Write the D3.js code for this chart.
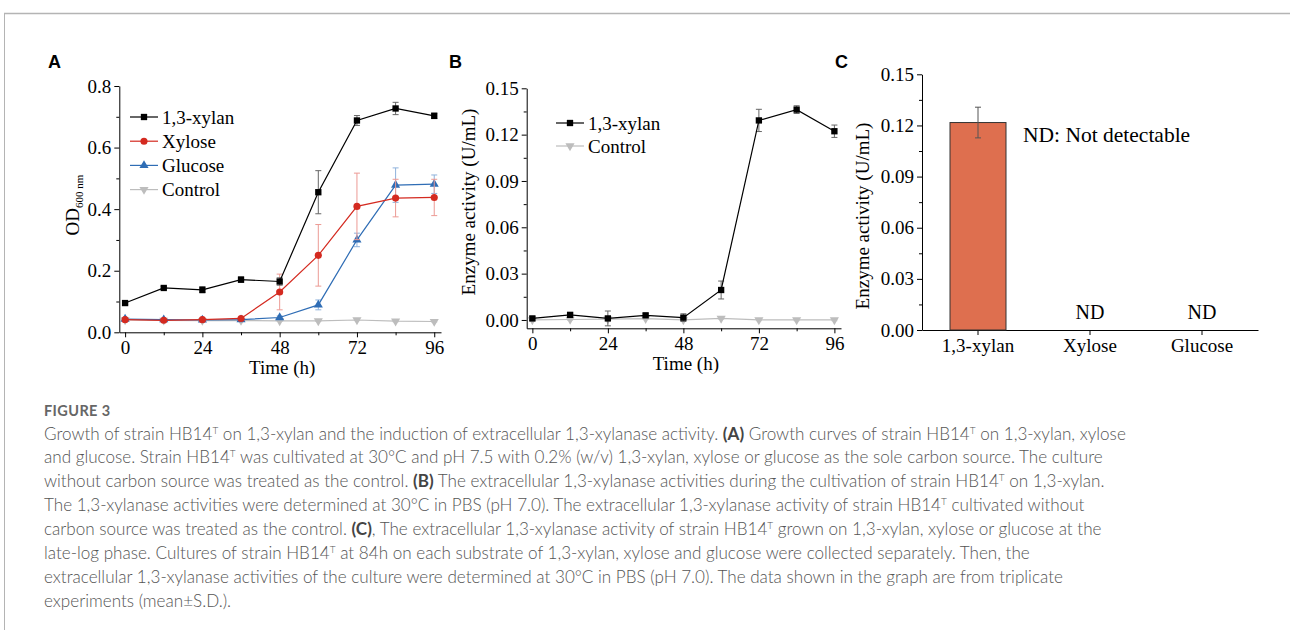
<!DOCTYPE html>
<html>
<head>
<meta charset="utf-8">
<script src="https://cdn.jsdelivr.net/npm/d3@7"></script>
<style>
  html, body { margin: 0; padding: 0; background: #fff; }
  svg { display: block; }
  .serif { font-family: "Liberation Serif", "Times New Roman", serif; }
</style>
</head>
<body>
<svg id="fig" width="1290" height="630"></svg>
<script>
// ---- data ----
const hours = [0, 12, 24, 36, 48, 60, 72, 84, 96];

// panel A : OD600
const xylanOD     = [0.095, 0.144, 0.138, 0.171, 0.165, 0.455, 0.688, 0.727, 0.703];
const xylanODsd   = [0.005, 0.005, 0.010, 0.009, 0.012, 0.070, 0.016, 0.020, 0.009];
const xyloseOD    = [0.041, 0.039, 0.041, 0.045, 0.131, 0.250, 0.409, 0.436, 0.438];
const xyloseODsd  = [0.003, 0.003, 0.003, 0.003, 0.058, 0.100, 0.108, 0.061, 0.059];
const glucoseOD   = [0.043, 0.041, 0.040, 0.041, 0.048, 0.089, 0.300, 0.478, 0.481];
const glucoseODsd = [0.003, 0.003, 0.003, 0.003, 0.005, 0.016, 0.022, 0.056, 0.030];
const controlOD   = [0.040, 0.039, 0.038, 0.038, 0.037, 0.037, 0.040, 0.036, 0.035];
const controlODsd = [0.002, 0.002, 0.002, 0.002, 0.002, 0.002, 0.002, 0.002, 0.002];

// panel B : enzyme activity over time
const xylanAct     = [0.0010, 0.0033, 0.0010, 0.0030, 0.0015, 0.0194, 0.1292, 0.1362, 0.1222];
const xylanActSd   = [0.0012, 0.0012, 0.0048, 0.0010, 0.0025, 0.0058, 0.0072, 0.0025, 0.0040];
const controlAct   = [0.0000, 0.0003, 0.0005, 0.0008, 0.0000, 0.0010, 0.0000, 0.0000, 0.0000];
const controlActSd = [0.0008, 0.0005, 0.0005, 0.0005, 0.0005, 0.0005, 0.0005, 0.0005, 0.0005];

// panel C : activity at 84 h
const substrates     = ["1,3-xylan", "Xylose", "Glucose"];
const substrateAct   = [0.1217, null, null];
const substrateActSd = [0.0090, null, null];

// ticks
const timeTicks  = [0, 24, 48, 72, 96];
const timeMinor  = [12, 36, 60, 84];
const odTicks    = [0, 0.2, 0.4, 0.6, 0.8];
const odMinor    = [0.1, 0.3, 0.5, 0.7];
const actTicks   = [0, 0.03, 0.06, 0.09, 0.12, 0.15];
const actMinor   = [0.015, 0.045, 0.075, 0.105, 0.135];

// caption, ^T = superscript T, [..] = bold
const captionLines = [
  "Growth of strain HB14^T on 1,3-xylan and the induction of extracellular 1,3-xylanase activity. [(A)] Growth curves of strain HB14^T on 1,3-xylan, xylose",
  "and glucose. Strain HB14^T was cultivated at 30°C and pH 7.5 with 0.2% (w/v) 1,3-xylan, xylose or glucose as the sole carbon source. The culture",
  "without carbon source was treated as the control. [(B)] The extracellular 1,3-xylanase activities during the cultivation of strain HB14^T on 1,3-xylan.",
  "The 1,3-xylanase activities were determined at 30°C in PBS (pH 7.0). The extracellular 1,3-xylanase activity of strain HB14^T cultivated without",
  "carbon source was treated as the control. [(C)], The extracellular 1,3-xylanase activity of strain HB14^T grown on 1,3-xylan, xylose or glucose at the",
  "late-log phase. Cultures of strain HB14^T at 84h on each substrate of 1,3-xylan, xylose and glucose were collected separately. Then, the",
  "extracellular 1,3-xylanase activities of the culture were determined at 30°C in PBS (pH 7.0). The data shown in the graph are from triplicate",
  "experiments (mean±S.D.)."
];

// ---- drawing ----
let svg = d3.select("#fig");
const FS = 19;

// frame of the figure box
svg.append("line").attr("x1", 4).attr("x2", 1290).attr("y1", 13.5).attr("y2", 13.5)
  .style("stroke", "#b4b4b4").style("stroke-width", 1.5);
svg.append("line").attr("x1", 4.5).attr("x2", 4.5).attr("y1", 13).attr("y2", 630)
  .style("stroke", "#b4b4b4").style("stroke-width", 1);

// panel letters
[["A", 48, 68], ["B", 449, 68], ["C", 835, 68]].forEach(d => {
  svg.append("text").attr("x", d[1]).attr("y", d[2]).text(d[0])
    .style("font-family", "'Liberation Sans', Arial, sans-serif")
    .style("font-weight", "bold").style("font-size", "18px");
});

function styleAxis(g) {
  g.selectAll("path, line").style("stroke", "#000").style("stroke-width", 1);
  g.selectAll("text").attr("class", "serif").style("font-size", FS + "px").style("fill", "#000");
}

function leftAxis(g, y, x0, ticks, minor, fmt) {
  g.append("g").attr("transform", "translate(" + x0 + ",0)")
    .call(d3.axisLeft(y).tickValues(ticks).tickFormat(fmt).tickSize(5).tickPadding(3).tickSizeOuter(0))
    .call(styleAxis);
  g.append("g").attr("transform", "translate(" + x0 + ",0)")
    .call(d3.axisLeft(y).tickValues(minor).tickFormat("").tickSize(3).tickSizeOuter(0))
    .call(a => a.select(".domain").remove())
    .call(styleAxis);
}

function linePanel(opts) {
  let g = svg.append("g");
  let x = d3.scaleLinear().domain([-1.8, 98.1]).range(opts.xr);
  let y = d3.scaleLinear().domain(opts.yd).range(opts.yr);

  g.append("g").attr("transform", "translate(0," + opts.yr[0] + ")")
    .call(d3.axisBottom(x).tickValues(timeTicks).tickSize(5).tickPadding(3).tickSizeOuter(0))
    .call(styleAxis);
  g.append("g").attr("transform", "translate(0," + opts.yr[0] + ")")
    .call(d3.axisBottom(x).tickValues(timeMinor).tickFormat("").tickSize(3).tickSizeOuter(0))
    .call(a => a.select(".domain").remove())
    .call(styleAxis);
  leftAxis(g, y, opts.xr[0], opts.yt, opts.ym, opts.fmt);

  let line = d3.line().x((d, i) => x(hours[i])).y(d => y(d));

  // draw in reverse so first series is on top
  opts.series.slice().reverse().forEach(s => {
    let sg = g.append("g");
    // error bars
    s.v.forEach((v, i) => {
      let cx = x(hours[i]), t = y(v + s.sd[i]), b = y(v - s.sd[i]);
      sg.append("line").attr("x1", cx).attr("x2", cx).attr("y1", t).attr("y2", b)
        .style("stroke", s.err).style("stroke-width", 1);
      [t, b].forEach(yy => sg.append("line").attr("x1", cx - 3).attr("x2", cx + 3)
        .attr("y1", yy).attr("y2", yy).style("stroke", s.err).style("stroke-width", 1));
    });
    sg.append("path").attr("d", line(s.v))
      .style("fill", "none").style("stroke", s.color).style("stroke-width", 1.2);
    sg.selectAll("path.pt").data(s.v).enter().append("path").attr("class", "pt")
      .attr("d", d3.symbol().type(s.shape).size(s.size))
      .attr("transform", (d, i) => "translate(" + x(hours[i]) + "," + y(d) + ")" + (s.flip ? " rotate(180)" : ""))
      .style("fill", s.color);
  });

  // legend
  opts.series.forEach((s, i) => {
    let ly = opts.legend[1] + i * opts.legend[2];
    let lx = opts.legend[0];
    g.append("line").attr("x1", lx).attr("x2", lx + 28).attr("y1", ly).attr("y2", ly)
      .style("stroke", s.color).style("stroke-width", 1.2);
    g.append("path").attr("d", d3.symbol().type(s.shape).size(s.size))
      .attr("transform", "translate(" + (lx + 14) + "," + ly + ")" + (s.flip ? " rotate(180)" : ""))
      .style("fill", s.color);
    g.append("text").attr("class", "serif").attr("x", lx + 32).attr("y", ly + 6.5)
      .style("font-size", FS + "px").text(s.name);
  });

  g.append("text").attr("class", "serif")
    .attr("x", (opts.xr[0] + opts.xr[1]) / 2 + 2).attr("y", opts.yr[0] + 42)
    .attr("text-anchor", "middle").style("font-size", FS + "px").text("Time (h)");
  return g;
}

let black = "#000", red = "#d42a20", blue = "#2f6db5", grey = "#bdbdbd";

// Panel A
let gA = linePanel({
  xr: [119.3, 441], yd: [0, 0.8], yr: [332.3, 86],
  yt: odTicks, ym: odMinor, fmt: d3.format(".1f"),
  legend: [130, 117, 24.2],
  series: [
    { name: "1,3-xylan", v: xylanOD, sd: xylanODsd, color: black, err: "#666", shape: d3.symbolSquare, size: 40 },
    { name: "Xylose", v: xyloseOD, sd: xyloseODsd, color: red, err: "#ec9a94", shape: d3.symbolCircle, size: 40 },
    { name: "Glucose", v: glucoseOD, sd: glucoseODsd, color: blue, err: "#8fb2dc", shape: d3.symbolTriangle, size: 36 },
    { name: "Control", v: controlOD, sd: controlODsd, color: grey, err: "#cfcfcf", shape: d3.symbolTriangle, size: 36, flip: true }
  ]
});
let odLab = gA.append("text").attr("class", "serif").attr("text-anchor", "middle")
  .attr("transform", "translate(79,205) rotate(-90)").style("font-size", FS + "px");
odLab.append("tspan").text("OD");
odLab.append("tspan").attr("dy", 4).style("font-size", "11px").text("600 nm");

// Panel B
let gB = linePanel({
  xr: [526.7, 841], yd: [-0.0054, 0.15], yr: [328.3, 88.3],
  yt: actTicks, ym: actMinor, fmt: d3.format(".2f"),
  legend: [556, 123, 23],
  series: [
    { name: "1,3-xylan", v: xylanAct, sd: xylanActSd, color: black, err: "#666", shape: d3.symbolSquare, size: 40 },
    { name: "Control", v: controlAct, sd: controlActSd, color: grey, err: "#cfcfcf", shape: d3.symbolTriangle, size: 36, flip: true }
  ]
});
gB.append("text").attr("class", "serif").attr("text-anchor", "middle")
  .attr("transform", "translate(475,202) rotate(-90)").style("font-size", FS + "px")
  .text("Enzyme activity (U/mL)");

// Panel C
let gC = svg.append("g");
let xc = d3.scaleBand().domain(substrates).range([922, 1258]).paddingInner(0.5).paddingOuter(0.25);
let yc = d3.scaleLinear().domain([0, 0.15]).range([330, 74.3]);
gC.append("g").attr("transform", "translate(0,330)")
  .call(d3.axisBottom(xc).tickSize(5).tickPadding(4).tickSizeOuter(0))
  .call(styleAxis);
leftAxis(gC, yc, 922, actTicks, actMinor, d3.format(".2f"));
substrates.forEach((s, i) => {
  let v = substrateAct[i];
  if (v === null) {
    gC.append("text").attr("class", "serif").attr("text-anchor", "middle")
      .attr("x", xc(s) + xc.bandwidth() / 2).attr("y", 319).style("font-size", "20px").text("ND");
    return;
  }
  gC.append("rect").attr("x", xc(s)).attr("width", xc.bandwidth())
    .attr("y", yc(v)).attr("height", yc(0) - yc(v))
    .style("fill", "#de6f4f").style("stroke", "#333").style("stroke-width", 1);
  let cx = xc(s) + xc.bandwidth() / 2, t = yc(v + substrateActSd[i]), b = yc(v - substrateActSd[i]);
  gC.append("line").attr("x1", cx).attr("x2", cx).attr("y1", t).attr("y2", b).style("stroke", "#555");
  [t, b].forEach(yy => gC.append("line").attr("x1", cx - 3).attr("x2", cx + 3)
    .attr("y1", yy).attr("y2", yy).style("stroke", "#555"));
});
gC.append("text").attr("class", "serif").attr("x", 1023).attr("y", 141.5)
  .style("font-size", "21.5px").text("ND: Not detectable");
gC.append("text").attr("class", "serif").attr("text-anchor", "middle")
  .attr("transform", "translate(869,216) rotate(-90)").style("font-size", FS + "px")
  .text("Enzyme activity (U/mL)");

// caption
let cap = svg.append("g").style("font-family", "Lato, 'Open Sans', sans-serif");
cap.append("text").attr("x", 44).attr("y", 415.5).text("FIGURE 3")
  .style("font-size", "14.5px").style("font-weight", 700).style("letter-spacing", "0.4px").style("fill", "#666");
let capRows = [];
captionLines.forEach((ln, i) => {
  let t = cap.append("text").attr("x", 44).attr("y", 439.5 + i * 23.9)
    .style("font-size", "16px").style("font-weight", 300).style("fill", "#555");
  let pend = 0;
  ln.split(/(\^T|\[[^\]]+\])/).forEach(part => {
    if (!part) return;
    if (part === "^T") {
      t.append("tspan").attr("dy", -6 - pend).style("font-size", "10px").text("T");
      pend = -6;
      return;
    }
    let ts = t.append("tspan");
    if (pend) { ts.attr("dy", -pend); pend = 0; }
    if (part[0] === "[") {
      ts.style("font-weight", 700).style("fill", "#444").text(part.slice(1, -1));
    } else {
      ts.text(part);
    }
  });
  capRows.push(t);
});
// fit first caption line to the width of the printed one
let w0 = capRows[0].node().getComputedTextLength();
let capSize = 16 * 1083 / w0;
capRows.forEach(t => t.style("font-size", capSize + "px"));
</script>
</body>
</html>
